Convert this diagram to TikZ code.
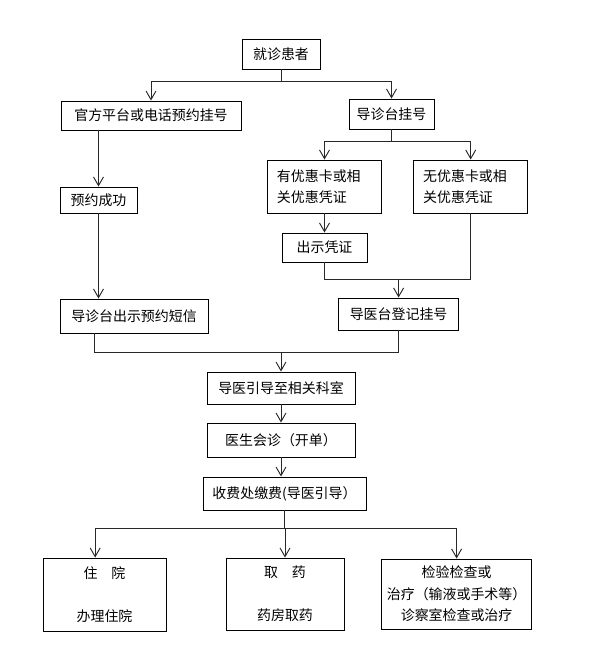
\documentclass[tikz,border=0pt]{standalone}
\usepackage{fontspec}
\setmainfont{Noto Sans CJK SC}
\usepackage{tikz}
\usetikzlibrary{
	arrows.meta, 
	calc, 
	positioning
}
\definecolor{LineGray}{RGB}{40, 40, 40}
\tikzset{
	box/.style={draw, rectangle, inner sep=0pt, line width=0.8pt, font=\fontsize{11.9pt}{18.3pt}\selectfont},
	sz/.style 2 args={minimum width=#1*0.03cm, minimum height=#2*0.03cm},
	link/.style={draw=LineGray, line width=0.8pt},
	arr/.style={link, -{Straight Barb[length=2.6mm,width=3mm]}}
}

\begin{document}
\begin{tikzpicture}[x=0.03cm, y=-0.03cm]
		\useasboundingbox (0,0) rectangle (598,663);
		\node[box, sz={78}{30}] (start) at (281,54) {就诊患者};
		\node[box, sz={180}{29}] (official) at (151,115.5) {官方平台或电话预约挂号};
		\node[box, sz={85}{30}] (desk) at (391.5,114) {导诊台挂号};
		\node[box, sz={114}{53}, align=left, text width=2.85cm] (yes) at (324.5,186.5) {有优惠卡或相\\关优惠凭证};
		\node[box, sz={114.5}{53}, align=left, text width=2.85cm] (no) at (470.7,186.5) {无优惠卡或相\\关优惠凭证};
		\node[box, sz={77}{26}] (success) at (98.5,200) {预约成功};
		\node[box, sz={85}{29}] (show) at (324.5,247.5) {出示凭证};
		\node[box, sz={148}{34}] (sms) at (134,316) {导诊台出示预约短信};
		\node[box, sz={120}{32}] (reg) at (398.6,314) {导医台登记挂号};
		\node[box, sz={148}{32}] (guide) at (281,388) {导医引导至相关科室};
		\node[box, sz={148}{34}] (doctor) at (281,440) {医生会诊（开单）};
		\node[box, sz={163}{33}] (pay) at (284.5,493.5) {收费处缴费(导医引导）};
		\node[box, sz={123}{73}, align=center] (stay) at (104.5,594.5) {住\quad 院\\[18.3pt]办理住院};
		\node[box, sz={118}{72}, align=center] (drug) at (285,594) {取\quad 药\\[18.3pt]药房取药};
		\node[box, sz={150}{70}, align=center] (exam) at (456.6,594) {检验检查或\\治疗（输液或手术等）\\诊察室检查或治疗};
		\coordinate (j1) at (281,81);
		\coordinate (j2) at (391.5,141);
		\coordinate (j3) at (398.6,279.3);
		\coordinate (j4) at (281,352);
		\coordinate (j5) at (284.5,528);
		\draw[link] (start) -- (j1);
		\draw[arr] (j1) -| (official);
		\draw[arr] (j1) -| (desk);
		\draw[link] (desk) -- (j2);
		\draw[arr] (j2) -| (yes);
		\draw[arr] (j2) -| (no);
		\draw[arr] (official.south -| success) -- (success);
		\draw[arr] (success) -- (success |- sms.north);
		\draw[arr] (yes) -- (show);
		\draw[link] (show) |- (j3 -| no) -- (no);
		\draw[arr] (j3) -- (reg);
		\draw[link] ($(sms.south west)!0.235!(sms.south east)$) |- (j4 -| reg) -- (reg);
		\draw[arr] (j4) -- (guide);
		\draw[arr] (guide) -- (doctor);
		\draw[arr] (doctor) -- (doctor |- pay.north);
		\draw[link] (pay) -- (j5);
		\draw[arr] (j5) -| ([xshift=-0.28cm]stay.north);
		\foreach \n in {drug, exam}
		\draw[arr] (j5) -| (\n);
	\end{tikzpicture}
\end{document}
